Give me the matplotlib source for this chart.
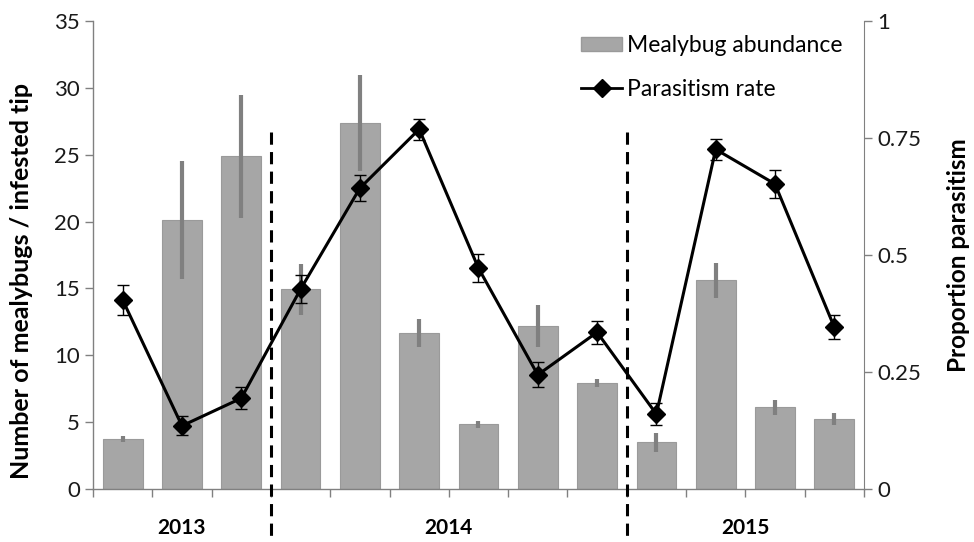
import matplotlib.pyplot as plt
from matplotlib.patches import Patch
from matplotlib.lines import Line2D

plt.rcParams['font.family'] = ['Lato', 'DejaVu Sans']

# mealybug abundance per sampling date (bars, left axis)
abundance = [3.75, 20.1, 24.9, 14.95, 27.4, 11.7, 4.85, 12.2, 7.9, 3.5, 15.6, 6.1, 5.25]
abundance_err = [0.25, 4.4, 4.6, 1.9, 3.6, 1.05, 0.25, 1.6, 0.3, 0.7, 1.3, 0.55, 0.45]

# proportion parasitised (line, right axis)
parasitism = [0.404, 0.135, 0.194, 0.427, 0.643, 0.769, 0.472, 0.244, 0.335, 0.160, 0.726, 0.652, 0.346]
parasitism_err = [0.032, 0.02, 0.024, 0.03, 0.028, 0.022, 0.03, 0.027, 0.025, 0.024, 0.022, 0.03, 0.026]

years = ['2013', '2014', '2015']
year_counts = [3, 6, 4]

x = list(range(len(abundance)))
grey = '#808080'

fig = plt.figure(figsize=(9.74, 5.42), dpi=100)
ax = fig.add_axes([0.0955, 0.0978, 0.7915, 0.8632])

ax.bar(x, abundance, width=0.67, color='#a6a6a6', edgecolor='#9a9a9a', linewidth=0.8, zorder=2)
ax.errorbar(x, abundance, yerr=abundance_err, fmt='none', ecolor=grey, elinewidth=3, capsize=0, zorder=3)

ax.set_xlim(-0.5, len(x) - 0.5)
ax.set_ylim(0, 35)
ax.set_yticks(range(0, 36, 5))
ax.set_xticks([i - 0.5 for i in range(len(x) + 1)])
ax.set_xticklabels([])
ax.tick_params(axis='x', direction='out', length=6, width=1, color=grey)
ax.tick_params(axis='y', direction='out', length=6, width=1, colors=grey, labelcolor='#1a1a1a', labelsize=16)
for s in ['top', 'right']:
    ax.spines[s].set_visible(False)
for s in ['left', 'bottom']:
    ax.spines[s].set_color(grey)
    ax.spines[s].set_linewidth(1)
ax.set_ylabel('Number of mealybugs / infested tip', fontsize=18, fontweight='bold')
ax.yaxis.set_label_coords(-0.078, 0.444)

ax2 = ax.twinx()
ax2.errorbar(x, parasitism, yerr=parasitism_err, fmt='none', ecolor='black', elinewidth=1, capsize=4, capthick=1, zorder=3)
ax2.plot(x, parasitism, color='black', lw=2.2, marker='D', markersize=9, zorder=4)
ax2.set_ylim(0, 1)
ax2.set_yticks([0, 0.25, 0.5, 0.75, 1])
ax2.set_yticklabels(['0', '0.25', '0.5', '0.75', '1'])
ax2.tick_params(axis='y', direction='out', length=6, width=1, colors=grey, labelcolor='#1a1a1a', labelsize=16)
for s in ['top', 'left', 'bottom']:
    ax2.spines[s].set_visible(False)
ax2.spines['right'].set_color(grey)
ax2.set_ylabel('Proportion parasitism', fontsize=17.5, fontweight='bold')
ax2.yaxis.set_label_coords(1.108, 0.5)

# year separators and labels
start = 0
for i, (yr, n) in enumerate(zip(years, year_counts)):
    ax.text(start + n / 2 - 0.5, -2.92, yr, ha='center', va='center', fontsize=15, fontweight='bold')
    start += n
    if i < len(years) - 1:
        ax.plot([start - 0.5, start - 0.5], [26.7, -4], color='black', lw=2.2,
                linestyle=(0, (4, 2.4)), clip_on=False, zorder=5)

handles = [Patch(facecolor='#a6a6a6', edgecolor='#9a9a9a'),
           Line2D([0], [0], color='black', lw=2, marker='D', markersize=9)]
ax2.legend(handles, ['Mealybug abundance', 'Parasitism rate'], loc='upper left',
           bbox_to_anchor=(0.621, 0.989), frameon=False, fontsize=16.5, labelspacing=0.98,
           handlelength=1.8, handleheight=0.55, handletextpad=0.2, borderaxespad=0)

fig.savefig('out.png', dpi=100)
